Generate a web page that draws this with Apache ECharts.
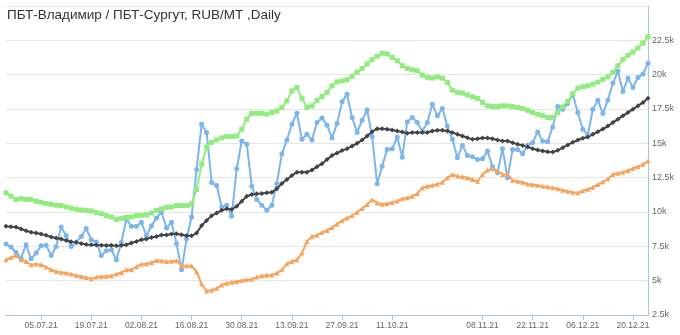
<!DOCTYPE html>
<html>
<head>
<meta charset="utf-8">
<script src="https://cdn.jsdelivr.net/npm/echarts@6/dist/echarts.min.js"></script>
<style>
html,body{margin:0;padding:0;background:#fff;}
#c{width:680px;height:335px;}
</style>
</head>
<body>
<div id="c"></div>
<script>
const dates = [
"24.06.21","25.06.21","28.06.21","29.06.21","30.06.21","01.07.21","02.07.21",
"05.07.21","06.07.21","07.07.21","08.07.21","09.07.21",
"12.07.21","13.07.21","14.07.21","15.07.21","16.07.21",
"19.07.21","20.07.21","21.07.21","22.07.21","23.07.21",
"26.07.21","27.07.21","28.07.21","29.07.21","30.07.21",
"02.08.21","03.08.21","04.08.21","05.08.21","06.08.21",
"09.08.21","10.08.21","11.08.21","12.08.21","13.08.21",
"16.08.21","17.08.21","18.08.21","19.08.21","20.08.21",
"23.08.21","24.08.21","25.08.21","26.08.21","27.08.21",
"30.08.21","31.08.21","01.09.21","02.09.21","03.09.21",
"06.09.21","07.09.21","08.09.21","09.09.21","10.09.21",
"13.09.21","14.09.21","15.09.21","16.09.21","17.09.21",
"20.09.21","21.09.21","22.09.21","23.09.21","24.09.21",
"27.09.21","28.09.21","29.09.21","30.09.21","01.10.21",
"04.10.21","05.10.21","06.10.21","07.10.21","08.10.21",
"11.10.21","12.10.21","13.10.21","14.10.21","15.10.21",
"18.10.21","19.10.21","20.10.21","21.10.21","22.10.21",
"25.10.21","26.10.21","27.10.21","28.10.21","29.10.21",
"01.11.21","02.11.21","03.11.21",
"08.11.21","09.11.21","10.11.21","11.11.21","12.11.21",
"15.11.21","16.11.21","17.11.21","18.11.21","19.11.21",
"22.11.21","23.11.21","24.11.21","25.11.21","26.11.21",
"29.11.21","30.11.21","01.12.21","02.12.21","03.12.21",
"06.12.21","07.12.21","08.12.21","09.12.21","10.12.21",
"13.12.21","14.12.21","15.12.21","16.12.21","17.12.21",
"20.12.21","21.12.21","22.12.21","23.12.21"
];

const tickLabels = ["05.07.21","19.07.21","02.08.21","16.08.21","30.08.21","13.09.21","27.09.21","11.10.21","08.11.21","22.11.21","06.12.21","20.12.21"];

const blueSeries = [
7670,7450,7050,6640,7620,6590,7010,7540,7570,6840,
7490,8910,8270,7490,7790,8220,8790,7980,7810,6840,
7170,7250,6520,7790,9490,8960,8960,9250,8270,9000,
9570,9980,8840,9250,7690,5790,8030,9640,13100,16390,
15780,12150,11930,10370,10490,9690,13150,15170,14930,11880,
10910,10490,10120,10490,12080,14250,15240,16390,17190,15290,
15660,15240,16510,16850,16320,15390,16440,18020,18580,16880,
15780,16680,17430,15490,12050,13340,14560,14610,15460,13990,
16560,16880,16510,15900,16510,17850,17000,17540,16260,15290,
13950,14850,14120,14030,13830,13880,14440,13300,12860,14610,
12490,14560,14560,14250,14870,15050,15830,15170,15120,16190,
17680,17490,17900,18580,17240,16020,15610,17490,18140,17170,
18140,19390,20240,18780,19750,19070,19800,20040,20830
];

const blackSeries = [
8960,8930,8910,8760,8640,8520,8470,8400,8300,8180,
8110,8030,7930,7840,7790,7710,7640,7620,7600,7570,
7560,7570,7540,7570,7620,7740,7860,7980,8030,8150,
8220,8330,8330,8400,8420,8350,8270,8270,8470,9010,
9390,9720,9930,10120,10230,10180,10420,10780,11150,11270,
11320,11350,11400,11440,11690,12080,12370,12660,12900,12900,
12900,13050,13300,13520,13830,14120,14290,14470,14610,14800,
15000,15240,15530,15850,16070,16070,16020,15970,15900,15830,
15730,15780,15780,15780,15780,15900,15950,15950,15900,15780,
15660,15530,15410,15290,15340,15390,15390,15340,15240,15170,
15170,15050,14930,14850,14740,14610,14510,14440,14390,14360,
14490,14680,14880,15070,15240,15370,15460,15660,15850,16040,
16260,16510,16760,17000,17240,17490,17730,17980,18290
];

const greenSeries = [
11400,11150,10910,10980,10910,10910,10780,10710,10610,10560,
10490,10470,10370,10270,10200,10150,10120,10080,9960,9880,
9740,9640,9440,9540,9610,9640,9740,9760,9790,9930,
10120,10230,10340,10370,10470,10470,10470,10590,11640,13470,
14730,15070,15250,15400,15490,15490,15530,16020,16760,17190,
17190,17190,17120,17240,17360,17610,18090,18820,19070,18270,
17610,17730,18130,18410,18710,19190,19480,19550,19630,19880,
20170,20460,20780,21090,21340,21560,21510,21260,21020,20650,
20460,20360,20290,19970,19800,19750,19850,19750,19440,18870,
18710,18660,18530,18390,18270,17980,17730,17680,17680,17730,
17730,17680,17610,17540,17400,17240,17120,17020,16880,16880,
17240,17650,18050,18630,19020,19120,19190,19310,19460,19660,
19850,20170,20650,21120,21410,21650,21940,22290,22770
];

const orangeSeries = [
6520,6690,6840,6520,6400,6160,6210,6160,5990,5800,
5670,5620,5550,5480,5370,5300,5230,5130,5260,5300,
5320,5350,5480,5590,5790,5790,6030,6210,6230,6320,
6470,6450,6400,6420,6470,6080,6080,6080,5650,4750,
4250,4300,4450,4690,4820,4890,4940,5010,5060,5110,
5260,5350,5400,5420,5550,5790,6230,6400,6520,7010,
7860,8220,8310,8520,8660,8880,9130,9370,9570,9740,
9980,10250,10540,10900,10650,10560,10600,10700,10800,10960,
11030,11150,11350,11760,11880,11950,12030,12170,12490,12730,
12610,12560,12490,12370,12240,12730,13050,13150,12980,12730,
12730,12320,12240,12170,12040,12000,11950,11880,11830,11760,
11690,11590,11510,11440,11400,11540,11660,11810,12000,12200,
12420,12730,12830,12900,13030,13170,13320,13470,13710
];

const showTick = (idx, val) => tickLabels.indexOf(dates[idx]) >= 0;

const chart = echarts.init(document.getElementById('c'), null, {renderer: 'canvas'});

function lineSeries(name, data, color, symbol, size) {
  return {
    name: name,
    type: 'line',
    data: data,
    symbol: symbol,
    symbolSize: size,
    showSymbol: true,
    showAllSymbol: true,
    lineStyle: {width: 2, color: color},
    itemStyle: {color: color},
    emphasis: {disabled: true}
  };
}

chart.setOption({
  animation: false,
  backgroundColor: '#ffffff',
  title: {
    text: 'ПБТ-Владимир / ПБТ-Сургут, RUB/MT ,Daily',
    left: 2,
    top: 3,
    textStyle: {fontFamily: 'Liberation Sans', fontSize: 13.5, fontWeight: 'normal', color: '#333333'}
  },
  grid: {left: 6, right: 32, top: 6, bottom: 20, containLabel: false},
  xAxis: {
    type: 'category',
    data: dates,
    boundaryGap: false,
    axisLine: {lineStyle: {color: '#aac3e3', width: 1}},
    axisTick: {show: true, interval: showTick, length: 5, lineStyle: {color: '#aac3e3'}},
    axisLabel: {interval: showTick, fontFamily: 'Liberation Sans', fontSize: 8.5, color: '#666666', margin: 6},
    splitLine: {show: false}
  },
  yAxis: {
    type: 'value',
    position: 'right',
    min: 2500,
    max: 25000,
    interval: 2500,
    axisLine: {show: true, lineStyle: {color: '#aac3e3', width: 1}},
    axisTick: {show: false},
    splitLine: {show: true, lineStyle: {color: '#e6e6e6', width: 1}},
    axisLabel: {
      formatter: v => v === 25000 ? '' : (v / 1000) + 'k',
      fontFamily: 'Liberation Sans', fontSize: 9, color: '#666666', margin: 4,
      padding: [0, 0, 8, 0]
    }
  },
  series: [
    lineSeries('blue', blueSeries, '#7cb5ec', 'circle', 5),
    lineSeries('black', blackSeries, '#434348', 'diamond', 5),
    lineSeries('green', greenSeries, '#90ed7d', 'rect', 5),
    lineSeries('orange', orangeSeries, '#f7a35c', 'triangle', 5)
  ]
});
</script>
</body>
</html>
